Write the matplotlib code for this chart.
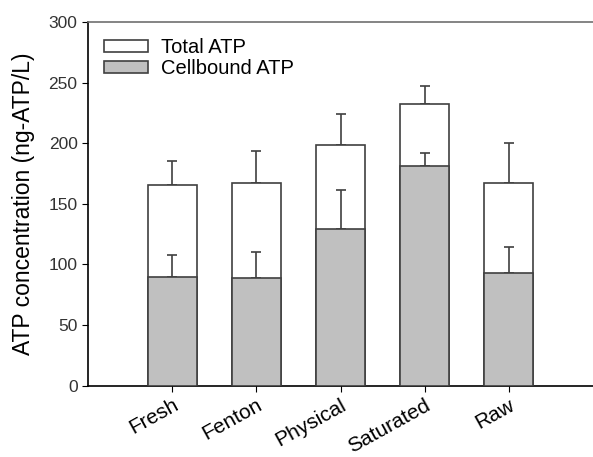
import matplotlib.pyplot as plt
import matplotlib.transforms as mtransforms
import numpy as np

plt.rcParams['font.family'] = ['Liberation Sans', 'DejaVu Sans']

# Datos
categories = ['Fresh', 'Fenton', 'Physical', 'Saturated', 'Raw']
total_atp = [165.6, 167.2, 198.9, 232.4, 167.2]
total_err = [20.0, 26.7, 25.0, 14.9, 33.3]
cell_atp = [89.7, 88.9, 129.6, 181.3, 92.7]
cell_err = [17.9, 21.4, 31.9, 10.7, 21.5]

fig = plt.figure(figsize=(5.93, 4.57), dpi=100)
ax = fig.add_axes([0.1484, 0.156, 0.8516, 0.796])

x = np.arange(len(categories))
w = 0.585
edge = '#404040'

ax.bar(x, total_atp, width=w, color='white', edgecolor=edge, linewidth=1.2,
       label='Total ATP', zorder=2)
ax.errorbar(x, total_atp, yerr=[np.zeros(len(x)), total_err], fmt='none',
            ecolor=edge, elinewidth=1.2, capsize=3.4, capthick=1.2, zorder=1)
ax.bar(x, cell_atp, width=w, color='#c0c0c0', edgecolor=edge, linewidth=1.2,
       label='Cellbound ATP', zorder=3)
ax.errorbar(x, cell_atp, yerr=[np.zeros(len(x)), cell_err], fmt='none',
            ecolor=edge, elinewidth=1.2, capsize=3.4, capthick=1.2, zorder=2.5)

ax.set_xlim(-1, 5)
ax.set_ylim(0, 300)
ax.set_yticks(range(0, 301, 50))
ax.set_xticks(x)
ax.set_xticklabels(categories, rotation=29, fontsize=15, ha='right',
                   va='top', rotation_mode='anchor')
offset = mtransforms.ScaledTranslation(0.06, -0.08, fig.dpi_scale_trans)
for lbl in ax.get_xticklabels():
    lbl.set_transform(lbl.get_transform() + offset)
ax.tick_params(axis='y', labelsize=12.5, length=4, labelcolor='#333333')
ax.tick_params(axis='x', length=4, pad=3)
ax.set_ylabel('ATP concentration (ng-ATP/L)', fontsize=16.5, labelpad=10)

ax.spines['right'].set_visible(False)
ax.spines['top'].set_color('#707070')
ax.spines['top'].set_linewidth(1.2)
ax.spines['left'].set_linewidth(1.2)
ax.spines['bottom'].set_linewidth(1.2)

ax.legend(loc='upper left', frameon=False, fontsize=14.5, handlelength=2.2,
          handleheight=0.5, handletextpad=0.6, borderaxespad=0.4,
          labelspacing=0.1)

plt.savefig('out.png', dpi=100)
